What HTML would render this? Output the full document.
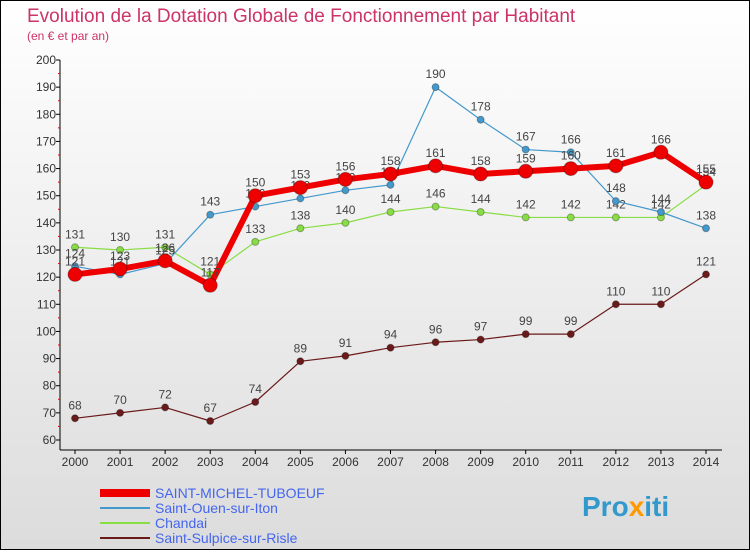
<!DOCTYPE html>
<html><head><meta charset="utf-8"><style>
body{margin:0;width:750px;height:550px;overflow:hidden;font-family:"Liberation Sans",sans-serif;}
</style></head><body>
<svg id="c" width="750" height="550" xmlns="http://www.w3.org/2000/svg">
<defs><linearGradient id="bg" x1="0" y1="0" x2="0" y2="1"><stop offset="0" stop-color="#ffffff"/><stop offset="1" stop-color="#dcdcdc"/></linearGradient></defs>
<rect x="0.5" y="0.5" width="749" height="549" fill="url(#bg)" stroke="#000"/>
<text x="27" y="22" font-size="19" fill="#cc3366">Evolution de la Dotation Globale de Fonctionnement par Habitant</text>
<text x="27" y="40" font-size="12" fill="#cc3366">(en € et par an)</text>
<g id="axes"></g><g id="series"></g><g id="legend"></g>
<text x="582" y="516" font-size="28" font-weight="bold" fill="#3399cc">Pro<tspan fill="#ff9900">x</tspan>iti</text>
</svg>
<script>
const years=[2000,2001,2002,2003,2004,2005,2006,2007,2008,2009,2010,2011,2012,2013,2014];
const yTicks=[60,70,80,90,100,110,120,130,140,150,160,170,180,190,200];
const stMichel=[121,123,126,117,150,153,156,158,161,158,159,160,161,166,155];
const stOuen=[124,121,125,143,146,149,152,154,190,178,167,166,148,144,138];
const chandai=[131,130,131,121,133,138,140,144,146,144,142,142,142,142,154];
const stSulpice=[68,70,72,67,74,89,91,94,96,97,99,99,110,110,121];
const NS="http://www.w3.org/2000/svg";
const X=i=>75+i*(706-75)/14, Y=v=>440-(v-60)*380/140;
function mk(t,a,p){const e=document.createElementNS(NS,t);for(const k in a)e.setAttribute(k,a[k]);p.appendChild(e);return e;}
const ax=document.getElementById('axes');
const yl=mk('line',{x1:60,y1:60,x2:60,y2:450,stroke:'#000'},ax);


const xl=mk('line',{x1:60,y1:450,x2:722,y2:450,stroke:'#000'},ax);


yTicks.forEach(v=>{const t=mk('text',{x:56,y:Y(v)+4,'font-size':12,'text-anchor':'end',fill:'#333'},ax);t.textContent=v;


mk('line',{x1:56,y1:Y(v),x2:60,y2:Y(v),stroke:'#000'},ax);
if(v<200)mk('line',{x1:58,y1:Y(v+5),x2:60,y2:Y(v+5),stroke:'#e00'},ax);});
years.forEach((y,i)=>{const t=mk('text',{x:X(i),y:466,'font-size':12,'text-anchor':'middle',fill:'#333'},ax);t.textContent=y;


mk('line',{x1:X(i),y1:450,x2:X(i),y2:454,stroke:'#000'},ax);});
const sg=document.getElementById('series');
function draw(data,color,w,r,name,labels){const g=mk('g',{},sg);


mk('polyline',{points:data.map((v,i)=>X(i)+','+Y(v)).join(' '),fill:'none',stroke:color,'stroke-width':w,'stroke-linejoin':'round'},g);
data.forEach((v,i)=>{const c=mk('circle',{cx:X(i),cy:Y(v),r:r,fill:color,stroke:'rgba(0,0,0,0.3)'},g);


if(labels){const t=mk('text',{x:X(i),y:Y(v)-9,'font-size':12,'text-anchor':'middle',fill:'#444'},g);t.textContent=v;

}});}
draw(stSulpice,'#6b1a1a',1.2,3.5,'saint-sulpice-series',true);
draw(chandai,'#88dd44',1.2,3.5,'chandai-series',true);
draw(stOuen,'#4499cc',1.2,3.5,'saint-ouen-series',true);
draw(stMichel,'#ee0000',6,7,'saint-michel-series',true);
const lg=document.getElementById('legend');
[['SAINT-MICHEL-TUBOEUF','#ee0000',8],['Saint-Ouen-sur-Iton','#4499cc',2],['Chandai','#88dd44',2],['Saint-Sulpice-sur-Risle','#6b1a1a',2]].forEach((e,i)=>{
const y=493+i*15;const g=mk('g',{},lg);


mk('line',{x1:100,y1:y,x2:150,y2:y,stroke:e[1],'stroke-width':e[2]},g);
const t=mk('text',{x:155,y:y+5,'font-size':14,fill:'#4466ee'},g);t.textContent=e[0];});
</script>
</body></html>
